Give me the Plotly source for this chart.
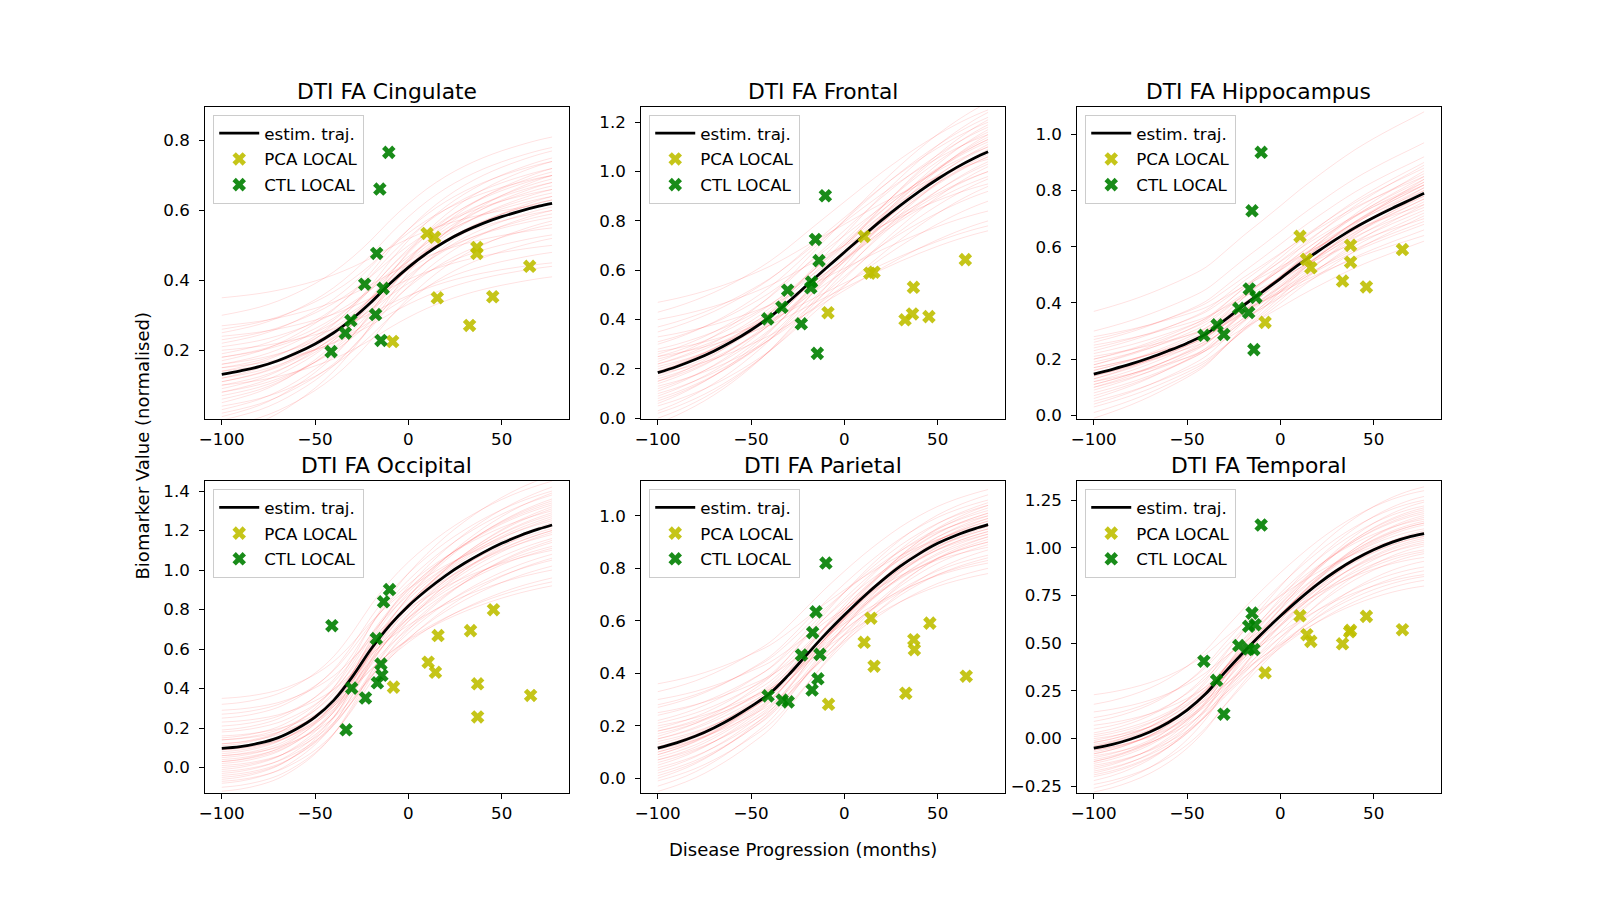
import plotly.graph_objects as go

# ---------------- data ----------------
titles = ["DTI FA Cingulate", "DTI FA Frontal", "DTI FA Hippocampus",
          "DTI FA Occipital", "DTI FA Parietal", "DTI FA Temporal"]

traj_x = [-100, -90, -80, -70, -60, -50, -40, -30, -20, -10, 0, 10, 20, 30, 40, 50, 60, 70, 77]

traj_cingulate = [0.131, 0.141, 0.153, 0.170, 0.192, 0.218, 0.250, 0.290, 0.337, 0.390, 0.437, 0.478,
                  0.512, 0.540, 0.563, 0.582, 0.598, 0.612, 0.620]
traj_frontal = [0.185, 0.209, 0.238, 0.272, 0.312, 0.358, 0.410, 0.472, 0.540, 0.607, 0.673, 0.739,
                0.803, 0.863, 0.919, 0.970, 1.016, 1.056, 1.080]
traj_hippocampus = [0.147, 0.164, 0.183, 0.205, 0.230, 0.257, 0.289, 0.338, 0.390, 0.438, 0.487, 0.537,
                    0.583, 0.627, 0.668, 0.704, 0.737, 0.768, 0.790]
traj_occipital = [0.097, 0.106, 0.123, 0.150, 0.195, 0.255, 0.340, 0.460, 0.600, 0.720, 0.818, 0.900,
                  0.972, 1.034, 1.088, 1.135, 1.175, 1.208, 1.228]
traj_parietal = [0.115, 0.135, 0.160, 0.192, 0.230, 0.274, 0.323, 0.393, 0.472, 0.550, 0.622, 0.690,
                 0.752, 0.808, 0.855, 0.895, 0.926, 0.951, 0.966]
traj_temporal = [-0.050, -0.030, -0.002, 0.035, 0.085, 0.150, 0.235, 0.345, 0.450, 0.550, 0.643, 0.730,
                 0.810, 0.880, 0.940, 0.990, 1.030, 1.060, 1.075]

# sampled trajectories: value at x=-100 and at x=77
start_cingulate = [0.35, 0.30, 0.27, 0.26, 0.25, 0.24, 0.23, 0.22, 0.21, 0.20, 0.19, 0.18, 0.18, 0.17, 0.16, 0.16,
                   0.15, 0.14, 0.14, 0.13, 0.12, 0.12, 0.11, 0.10, 0.10, 0.09, 0.08, 0.08, 0.07, 0.06, 0.05, 0.04,
                   0.03, 0.02, 0.01, 0.00, -0.02, -0.04, 0.15, 0.11]
end_cingulate = [0.62, 0.81, 0.55, 0.70, 0.78, 0.50, 0.66, 0.74, 0.60, 0.45, 0.72, 0.64, 0.58, 0.77, 0.68, 0.53,
                 0.62, 0.70, 0.48, 0.65, 0.59, 0.75, 0.67, 0.41, 0.63, 0.71, 0.56, 0.69, 0.61, 0.66, 0.74, 0.52,
                 0.68, 0.60, 0.72, 0.64, 0.57, 0.70, 0.44, 0.63]
start_frontal = [0.47, 0.43, 0.40, 0.37, 0.35, 0.33, 0.31, 0.30, 0.28, 0.27, 0.26, 0.25, 0.24, 0.23, 0.22, 0.21,
                 0.20, 0.19, 0.18, 0.17, 0.16, 0.15, 0.14, 0.13, 0.12, 0.11, 0.10, 0.09, 0.08, 0.07, 0.06, 0.05,
                 0.03, 0.02, 0.00, -0.02, 0.22, 0.19, 0.25, 0.15]
end_frontal = [1.05, 1.25, 0.95, 1.15, 1.20, 0.84, 1.10, 1.22, 1.00, 0.78, 1.18, 1.08, 0.98, 1.28, 1.12, 0.92,
               1.06, 1.16, 0.80, 1.10, 1.03, 1.24, 1.13, 0.88, 1.07, 1.19, 0.97, 1.14, 1.04, 1.11, 1.21, 0.94,
               1.17, 1.02, 1.09, 1.15, 1.00, 1.13, 0.76, 1.06]
start_hippocampus = [0.37, 0.30, 0.28, 0.27, 0.26, 0.25, 0.24, 0.23, 0.22, 0.21, 0.20, 0.20, 0.19, 0.18, 0.18, 0.17,
                     0.16, 0.16, 0.15, 0.14, 0.14, 0.13, 0.12, 0.12, 0.11, 0.10, 0.10, 0.09, 0.08, 0.07, 0.06, 0.05,
                     0.04, 0.03, 0.01, -0.01, 0.15, 0.13, 0.17, 0.11]
end_hippocampus = [1.08, 0.97, 0.75, 0.85, 0.92, 0.70, 0.82, 0.88, 0.78, 0.64, 0.86, 0.80, 0.74, 0.90, 0.83, 0.69,
                   0.79, 0.84, 0.66, 0.81, 0.77, 0.89, 0.82, 0.62, 0.78, 0.85, 0.72, 0.83, 0.76, 0.80, 0.87, 0.71,
                   0.81, 0.75, 0.79, 0.84, 0.73, 0.82, 0.68, 0.77]
start_occipital = [0.35, 0.32, 0.29, 0.27, 0.25, 0.23, 0.21, 0.19, 0.18, 0.16, 0.15, 0.14, 0.12, 0.11, 0.10, 0.09,
                   0.08, 0.07, 0.06, 0.05, 0.04, 0.03, 0.02, 0.01, 0.00, -0.01, -0.02, -0.03, -0.04, -0.05, -0.06,
                   -0.07, -0.08, -0.10, -0.12, 0.12, 0.09, 0.06, 0.14, 0.03]
end_occipital = [1.22, 1.45, 1.10, 1.30, 1.40, 1.00, 1.25, 1.38, 1.18, 0.92, 1.33, 1.21, 1.12, 1.48, 1.28, 1.05,
                 1.20, 1.35, 0.96, 1.26, 1.16, 1.42, 1.29, 1.02, 1.19, 1.36, 1.08, 1.31, 1.14, 1.24, 1.39, 1.06,
                 1.32, 1.15, 1.23, 1.34, 1.11, 1.27, 0.94, 1.20]
start_parietal = [0.36, 0.33, 0.30, 0.28, 0.27, 0.25, 0.24, 0.22, 0.21, 0.20, 0.19, 0.18, 0.17, 0.16, 0.15, 0.14,
                  0.13, 0.12, 0.11, 0.10, 0.10, 0.09, 0.08, 0.07, 0.06, 0.05, 0.04, 0.03, 0.02, 0.01, 0.00, -0.01,
                  -0.03, -0.05, 0.12, 0.09, 0.15, 0.07, 0.18, 0.11]
end_parietal = [0.96, 1.10, 0.88, 1.00, 1.06, 0.82, 0.97, 1.04, 0.93, 0.78, 1.02, 0.95, 0.90, 1.08, 0.99, 0.85,
                0.94, 1.01, 0.80, 0.98, 0.92, 1.05, 0.97, 0.84, 0.93, 1.03, 0.89, 1.00, 0.91, 0.96, 1.04, 0.87,
                0.99, 0.92, 0.95, 1.01, 0.90, 0.98, 0.83, 0.94]
start_temporal = [0.23, 0.18, 0.14, 0.11, 0.09, 0.07, 0.05, 0.03, 0.02, 0.00, -0.01, -0.02, -0.03, -0.04, -0.05,
                  -0.06, -0.07, -0.08, -0.09, -0.10, -0.11, -0.12, -0.13, -0.14, -0.15, -0.16, -0.17, -0.18, -0.19,
                  -0.20, -0.22, -0.24, -0.26, -0.28, -0.04, -0.08, 0.01, -0.12, -0.06, -0.02]
end_temporal = [1.07, 1.30, 0.95, 1.15, 1.25, 0.86, 1.10, 1.22, 1.02, 0.80, 1.18, 1.08, 0.98, 1.32, 1.13, 0.90,
                1.06, 1.20, 0.83, 1.12, 1.04, 1.27, 1.14, 0.88, 1.05, 1.21, 0.97, 1.16, 1.03, 1.09, 1.24, 0.93,
                1.17, 1.01, 1.08, 1.19, 0.99, 1.13, 0.85, 1.06]

# subjects
pca_x_cingulate = [10.0, 14.1, 15.5, -8.4, 32.8, 36.7, 36.7, 45.2, 65.0]
pca_y_cingulate = [0.534, 0.523, 0.350, 0.225, 0.271, 0.494, 0.477, 0.353, 0.440]
ctl_x_cingulate = [-10.5, -15.3, -17.0, -23.4, -13.5, -17.6, -30.8, -33.8, -41.4, -14.7]
ctl_y_cingulate = [0.766, 0.661, 0.477, 0.389, 0.377, 0.302, 0.285, 0.249, 0.196, 0.228]

pca_x_frontal = [10.6, 13.6, 15.9, -8.8, 32.5, 37.0, 36.5, 45.3, 64.8]
pca_y_frontal = [0.737, 0.588, 0.592, 0.428, 0.399, 0.531, 0.423, 0.412, 0.643]
ctl_x_frontal = [-10.2, -15.5, -13.6, -17.6, -18.0, -30.4, -33.5, -41.1, -23.1, -14.5]
ctl_y_frontal = [0.902, 0.725, 0.639, 0.552, 0.529, 0.519, 0.450, 0.403, 0.383, 0.263]

pca_x_hippocampus = [10.5, 14.0, 16.3, -8.2, 33.3, 37.6, 37.6, 46.1, 65.4]
pca_y_hippocampus = [0.637, 0.555, 0.525, 0.331, 0.478, 0.605, 0.545, 0.457, 0.590]
ctl_x_hippocampus = [-10.3, -15.2, -16.7, -13.1, -22.3, -17.0, -33.9, -30.3, -41.0, -14.2]
ctl_y_hippocampus = [0.936, 0.728, 0.450, 0.420, 0.381, 0.366, 0.322, 0.288, 0.285, 0.234]

pca_x_occipital = [-8.0, 10.6, 14.5, 15.9, 33.3, 37.1, 37.1, 45.6, 65.5]
pca_y_occipital = [0.407, 0.533, 0.482, 0.668, 0.693, 0.424, 0.256, 0.799, 0.365]
ctl_x_occipital = [-10.1, -13.3, -41.0, -17.2, -14.7, -14.2, -16.6, -30.4, -23.0, -33.4]
ctl_y_occipital = [0.901, 0.839, 0.718, 0.653, 0.524, 0.467, 0.429, 0.402, 0.352, 0.191]

pca_x_parietal = [14.2, 10.6, 15.9, -8.5, 32.9, 37.2, 37.5, 45.8, 65.3]
pca_y_parietal = [0.610, 0.518, 0.427, 0.282, 0.324, 0.528, 0.490, 0.591, 0.389]
ctl_x_parietal = [-9.9, -15.2, -17.0, -23.0, -13.1, -14.2, -17.3, -40.9, -33.3, -30.1]
ctl_y_parietal = [0.820, 0.634, 0.555, 0.470, 0.472, 0.379, 0.336, 0.314, 0.298, 0.291]

pca_x_temporal = [10.5, 14.2, 16.3, -8.2, 33.3, 37.6, 37.1, 46.1, 65.4]
pca_y_temporal = [0.644, 0.545, 0.510, 0.345, 0.497, 0.568, 0.560, 0.641, 0.571]
ctl_x_temporal = [-10.3, -15.2, -13.5, -17.0, -22.3, -17.0, -14.2, -41.0, -34.2, -30.3]
ctl_y_temporal = [1.120, 0.658, 0.597, 0.589, 0.488, 0.470, 0.467, 0.406, 0.306, 0.128]

y_ranges = [[0.004, 0.896], [-0.002, 1.262], [-0.012, 1.0975],
            [-0.129, 1.45], [-0.056, 1.132], [-0.285, 1.35]]
y_dticks = [0.2, 0.2, 0.2, 0.2, 0.2, 0.25]
y_formats = [".1f", ".1f", ".1f", ".1f", ".1f", ".2f"]
x_ticks = [-100, -50, 0, 50]
x_range = [-108.85, 85.85]

panels = [
    (traj_cingulate, start_cingulate, end_cingulate, pca_x_cingulate, pca_y_cingulate, ctl_x_cingulate, ctl_y_cingulate),
    (traj_frontal, start_frontal, end_frontal, pca_x_frontal, pca_y_frontal, ctl_x_frontal, ctl_y_frontal),
    (traj_hippocampus, start_hippocampus, end_hippocampus, pca_x_hippocampus, pca_y_hippocampus, ctl_x_hippocampus, ctl_y_hippocampus),
    (traj_occipital, start_occipital, end_occipital, pca_x_occipital, pca_y_occipital, ctl_x_occipital, ctl_y_occipital),
    (traj_parietal, start_parietal, end_parietal, pca_x_parietal, pca_y_parietal, ctl_x_parietal, ctl_y_parietal),
    (traj_temporal, start_temporal, end_temporal, pca_x_temporal, pca_y_temporal, ctl_x_temporal, ctl_y_temporal),
]

# ---------------- layout geometry ----------------
W, H = 1600, 900
col_dom = [[0.125, 0.352941], [0.398529, 0.626471], [0.672059, 0.9]]
row_dom = [[0.53, 0.88], [0.11, 0.46]]

FONT = "DejaVu Sans, Arial, sans-serif"
YELLOW = "#bfbf00"
GREEN = "#008000"

fig = go.Figure()
layout_axes = {}
annotations = []

for i, (traj, starts, ends, px, py, cx, cy) in enumerate(panels):
    r, c = divmod(i, 3)
    suf = "" if i == 0 else str(i + 1)
    xref, yref = "x" + suf, "y" + suf
    leg = "legend" + suf
    b0, b1 = traj[0], traj[-1]
    for s, e in zip(starts, ends):
        ys = [s + (e - s) * (v - b0) / (b1 - b0) for v in traj]
        fig.add_trace(go.Scatter(x=traj_x, y=ys, mode="lines",
                                 line=dict(color="rgba(255,0,0,0.15)", width=0.8, shape="spline"),
                                 hoverinfo="skip", showlegend=False, xaxis=xref, yaxis=yref))
    fig.add_trace(go.Scatter(x=traj_x, y=traj, mode="lines", name="estim. traj.",
                             line=dict(color="black", width=2.8, shape="spline"),
                             legend=leg, legendgroup=f"t{i}", xaxis=xref, yaxis=yref))
    fig.add_trace(go.Scatter(x=px, y=py, mode="markers", name="PCA LOCAL",
                             marker=dict(symbol="x", size=12, color=YELLOW, opacity=0.9, line=dict(width=0)),
                             legend=leg, legendgroup=f"p{i}", xaxis=xref, yaxis=yref))
    fig.add_trace(go.Scatter(x=cx, y=cy, mode="markers", name="CTL LOCAL",
                             marker=dict(symbol="x", size=12, color=GREEN, opacity=0.9, line=dict(width=0)),
                             legend=leg, legendgroup=f"c{i}", xaxis=xref, yaxis=yref))

    axcommon = dict(showline=True, linecolor="black", linewidth=1, mirror=True,
                    ticks="outside", ticklen=5, tickwidth=1, tickcolor="black",
                    showgrid=False, zeroline=False,
                    tickfont=dict(family=FONT, size=16.7, color="black"))
    layout_axes["xaxis" + suf] = dict(axcommon, domain=col_dom[c], anchor=yref, range=x_range,
                                      tickmode="array", tickvals=x_ticks)
    layout_axes["yaxis" + suf] = dict(axcommon, domain=row_dom[r], anchor=xref, range=y_ranges[i],
                                      tick0=0, dtick=y_dticks[i], tickformat=y_formats[i],
                                      ticklabelstandoff=6)
    layout_axes[leg] = dict(x=col_dom[c][0] + 8 / W, y=row_dom[r][1] - 8 / H,
                            xanchor="left", yanchor="top",
                            bgcolor="rgba(255,255,255,0.8)", bordercolor="#cccccc", borderwidth=1,
                            font=dict(family=FONT, size=16.7, color="black"),
                            traceorder="grouped", tracegroupgap=1, itemwidth=40)
    annotations.append(dict(text=titles[i], x=(col_dom[c][0] + col_dom[c][1]) / 2, y=row_dom[r][1],
                            xref="paper", yref="paper", xanchor="center", yanchor="bottom",
                            yshift=1, showarrow=False,
                            font=dict(family=FONT, size=21.8, color="black")))

annotations.append(dict(text="Disease Progression (months)", x=0.5, y=1 - 858 / H, xref="paper", yref="paper",
                        xanchor="center", yanchor="middle", showarrow=False,
                        font=dict(family=FONT, size=18, color="black")))
annotations.append(dict(text="Biomarker Value (normalised)", x=137.5 / W, y=0.5, xref="paper", yref="paper",
                        xanchor="center", yanchor="middle", textangle=-90, showarrow=False,
                        font=dict(family=FONT, size=18, color="black")))

fig.update_layout(width=W, height=H, margin=dict(l=0, r=0, t=0, b=0),
                  paper_bgcolor="white", plot_bgcolor="white",
                  font=dict(family=FONT, color="black"),
                  annotations=annotations, **layout_axes)

fig.write_html("out.html")
